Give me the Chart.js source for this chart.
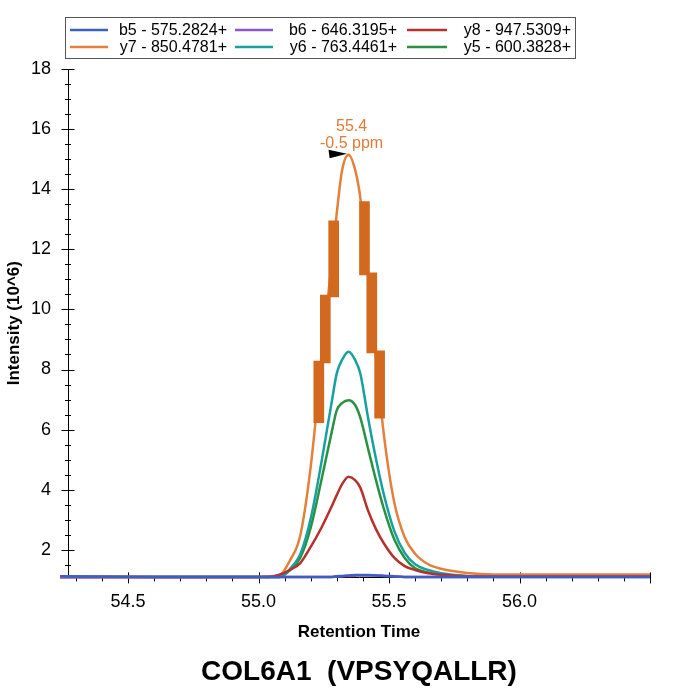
<!DOCTYPE html>
<html>
<head>
<meta charset="UTF-8">
<title>COL6A1 (VPSYQALLR)</title>
<script src="https://cdn.jsdelivr.net/npm/chart.js"></script>
<style>
  body { margin: 0; background: #fff; }
</style>
</head>
<body>
<canvas id="xic" width="687" height="694"></canvas>
<script>
    // retention time (min), shared by every transition
    const times = [54.24, 54.60, 55.00, 55.04, 55.08, 55.12, 55.16, 55.20, 55.24, 55.28, 55.30, 55.32, 55.345,
                   55.37, 55.39, 55.42, 55.45, 55.48, 55.52, 55.56, 55.60, 55.65, 55.70, 55.80, 55.90, 56.00, 56.50];

    // intensities (10^6)
    const b5 = [1.12, 1.10, 1.10, 1.10, 1.10, 1.10, 1.10, 1.10, 1.10, 1.10, 1.12, 1.13, 1.15,
                1.16, 1.16, 1.16, 1.15, 1.13, 1.11, 1.10, 1.10, 1.10, 1.10, 1.10, 1.10, 1.10, 1.10];
    const b6 = [1.10, 1.10, 1.10, 1.10, 1.10, 1.10, 1.10, 1.10, 1.10, 1.10, 1.11, 1.12, 1.13,
                1.14, 1.15, 1.15, 1.15, 1.14, 1.12, 1.10, 1.10, 1.10, 1.10, 1.10, 1.10, 1.10, 1.10];
    const y8 = [1.10, 1.10, 1.10, 1.10, 1.17, 1.33, 1.56, 2.10, 2.72, 3.44, 3.83, 4.18, 4.43,
                4.32, 4.07, 3.30, 2.69, 2.22, 1.74, 1.46, 1.33, 1.22, 1.17, 1.12, 1.11, 1.11, 1.11];
    const y7 = [1.10, 1.10, 1.10, 1.12, 1.15, 1.64, 2.48, 4.77, 8.18, 11.56, 13.22, 14.62, 15.15,
                14.65, 13.72, 11.10, 8.39, 5.85, 3.58, 2.42, 1.87, 1.52, 1.37, 1.23, 1.18, 1.18, 1.18];
    const y6 = [1.10, 1.10, 1.10, 1.10, 1.10, 1.36, 1.85, 3.04, 4.86, 6.90, 7.88, 8.32, 8.59,
                8.32, 7.87, 6.38, 5.03, 3.85, 2.63, 1.90, 1.52, 1.33, 1.22, 1.13, 1.12, 1.12, 1.12];
    const y5 = [1.10, 1.10, 1.10, 1.10, 1.10, 1.32, 1.74, 2.74, 4.28, 5.90, 6.65, 6.88, 6.98,
                6.82, 6.40, 5.36, 4.32, 3.37, 2.35, 1.73, 1.39, 1.25, 1.17, 1.12, 1.11, 1.11, 1.11];

    // thick blocks drawn over the y7 trace
    const blockRt   = [55.231, 55.256, 55.288, 55.406, 55.434, 55.464];
    const blockLow  = [6.23, 8.22, 10.42, 11.15, 8.55, 6.38];
    const blockHigh = [8.28, 10.48, 12.95, 13.59, 11.22, 8.62];

    const seriesNames = ['b5 - 575.2824+', 'b6 - 646.3195+', 'y8 - 947.5309+',
                         'y7 - 850.4781+', 'y6 - 763.4461+', 'y5 - 600.3828+'];
    const seriesValues = [b5, b6, y8, y7, y6, y5];
    const seriesColors = ['#3d5fc4', '#8e56c8', '#b7312c', '#e5803c', '#16a0a0', '#2a9142'];

    const xTicks = [54.5, 55.0, 55.5, 56.0];
    const yTicks = [2, 4, 6, 8, 10, 12, 14, 16, 18];
    const peakRt = '55.4';
    const peakPpm = '-0.5 ppm';

    const FONT = '"Liberation Sans", Arial, sans-serif';

    // minor / major tick marks crossing the axes
    const axisTicks = {
        id: 'axisTicks',
        beforeDatasetsDraw(chart) {
            const {ctx, scales: {x, y}} = chart;
            const bottom = chart.chartArea.bottom, left = chart.chartArea.left;
            ctx.save();
            ctx.strokeStyle = '#000';
            ctx.lineWidth = 1;
            ctx.beginPath();
            for (let k = 3; k <= 36; k++) {
                const py = Math.round(y.getPixelForValue(k / 2)) + 0.5;
                const len = k % 4 === 0 ? 6.5 : 3;
                ctx.moveTo(left - len, py);
                ctx.lineTo(left + len, py);
            }
            for (let k = 543; k <= 565; k++) {
                const px = Math.round(x.getPixelForValue(k / 10)) + 0.5;
                if (k % 5 === 0) {
                    ctx.moveTo(px, bottom - 5);
                    ctx.lineTo(px, bottom + 6);
                } else {
                    ctx.moveTo(px, bottom);
                    ctx.lineTo(px, bottom + 4);
                }
            }
            ctx.stroke();
            ctx.restore();
        }
    };

    // framed legend, 3 columns x 2 rows
    const boxLegend = {
        id: 'boxLegend',
        afterDraw(chart) {
            const ctx = chart.ctx;
            const cols = [{x0: 70, x1: 108, tx: 227}, {x0: 235, x1: 273, tx: 397}, {x0: 407, x1: 447, tx: 571}];
            ctx.save();
            ctx.strokeStyle = '#555';
            ctx.lineWidth = 1;
            ctx.strokeRect(65.5, 17.5, 510, 41);
            ctx.font = '16px ' + FONT;
            ctx.textAlign = 'right';
            ctx.textBaseline = 'middle';
            chart.data.datasets.slice(0, 6).forEach((ds, i) => {
                const c = cols[i % 3];
                const yy = i < 3 ? 30 : 47;
                ctx.strokeStyle = ds.borderColor;
                ctx.lineWidth = 2.5;
                ctx.beginPath();
                ctx.moveTo(c.x0, yy);
                ctx.lineTo(c.x1, yy);
                ctx.stroke();
                ctx.fillStyle = '#000';
                ctx.fillText(ds.label, c.tx, yy + 1);
            });
            ctx.restore();
        }
    };

    // apex marker and label on y7
    const peakLabel = {
        id: 'peakLabel',
        afterDatasetsDraw(chart) {
            const {ctx, scales: {x, y}} = chart;
            const i = y7.indexOf(Math.max(...y7));
            const px = x.getPixelForValue(times[i]);
            const py = y.getPixelForValue(y7[i]);
            ctx.save();
            ctx.fillStyle = '#000';
            ctx.beginPath();
            ctx.moveTo(px - 20, py - 5);
            ctx.lineTo(px - 1.5, py - 1);
            ctx.lineTo(px - 19, py + 3.5);
            ctx.closePath();
            ctx.fill();
            ctx.fillStyle = '#e07b39';
            ctx.font = '16px ' + FONT;
            ctx.textAlign = 'center';
            ctx.textBaseline = 'middle';
            ctx.fillText(peakRt, px + 3, py - 28);
            ctx.fillText(peakPpm, px + 3, py - 11);
            ctx.restore();
        }
    };

    const lineSets = seriesNames.map((name, s) => ({
        type: 'line',
        label: name,
        data: times.map((t, i) => ({x: t, y: seriesValues[s][i]})),
        borderColor: seriesColors[s],
        borderWidth: 2.5,
        pointRadius: 0,
        cubicInterpolationMode: 'monotone',
        clip: {left: 10, top: 0, right: 0, bottom: 4}
    }));

    const blocks = {
        type: 'bar',
        label: '',
        data: blockRt.map((t, i) => ({x: t, y: [blockLow[i], blockHigh[i]]})),
        backgroundColor: '#d2691f',
        barThickness: 10,
        grouped: false,
        order: -1
    };

    new Chart(document.getElementById('xic'), {
        type: 'line',
        data: {datasets: [...lineSets, blocks]},
        options: {
            responsive: false,
            animation: false,
            layout: {padding: {top: 69, right: 37, bottom: 5, left: 0}},
            plugins: {
                legend: {display: false},
                tooltip: {enabled: false},
                title: {
                    display: true,
                    position: 'bottom',
                    fullSize: false,
                    text: 'COL6A1  (VPSYQALLR)',
                    color: '#000',
                    font: {family: FONT, size: 28, weight: 'bold', lineHeight: 1.2},
                    padding: 0
                }
            },
            scales: {
                x: {
                    type: 'linear',
                    min: 54.27,
                    max: 56.5,
                    offset: false,
                    grid: {display: true, drawOnChartArea: false, drawTicks: false, offset: false},
                    border: {color: '#000', width: 1},
                    afterBuildTicks: s => { s.ticks = xTicks.map(v => ({value: v})); },
                    afterFit: s => { s.height = 78; },
                    ticks: {
                        autoSkip: false, maxRotation: 0, padding: 14, color: '#000',
                        font: {family: FONT, size: 18},
                        callback: v => v.toFixed(1)
                    },
                    title: {
                        display: true, text: 'Retention Time', color: '#000',
                        font: {family: FONT, size: 17, weight: 'bold'},
                        padding: {top: 13, bottom: 13}
                    }
                },
                y: {
                    type: 'linear',
                    min: 1.083,
                    max: 18,
                    grid: {display: true, drawOnChartArea: false, drawTicks: false},
                    border: {color: '#000', width: 1},
                    afterBuildTicks: s => { s.ticks = yTicks.map(v => ({value: v})); },
                    afterFit: s => { s.width = 68; },
                    ticks: {
                        autoSkip: false, padding: 17, color: '#000',
                        font: {family: FONT, size: 18}
                    },
                    title: {
                        display: true, text: 'Intensity (10^6)', color: '#000',
                        font: {family: FONT, size: 17, weight: 'bold'},
                        padding: {top: 4, bottom: 4}
                    }
                }
            }
        },
        plugins: [axisTicks, boxLegend, peakLabel]
    });
</script>
</body>
</html>
